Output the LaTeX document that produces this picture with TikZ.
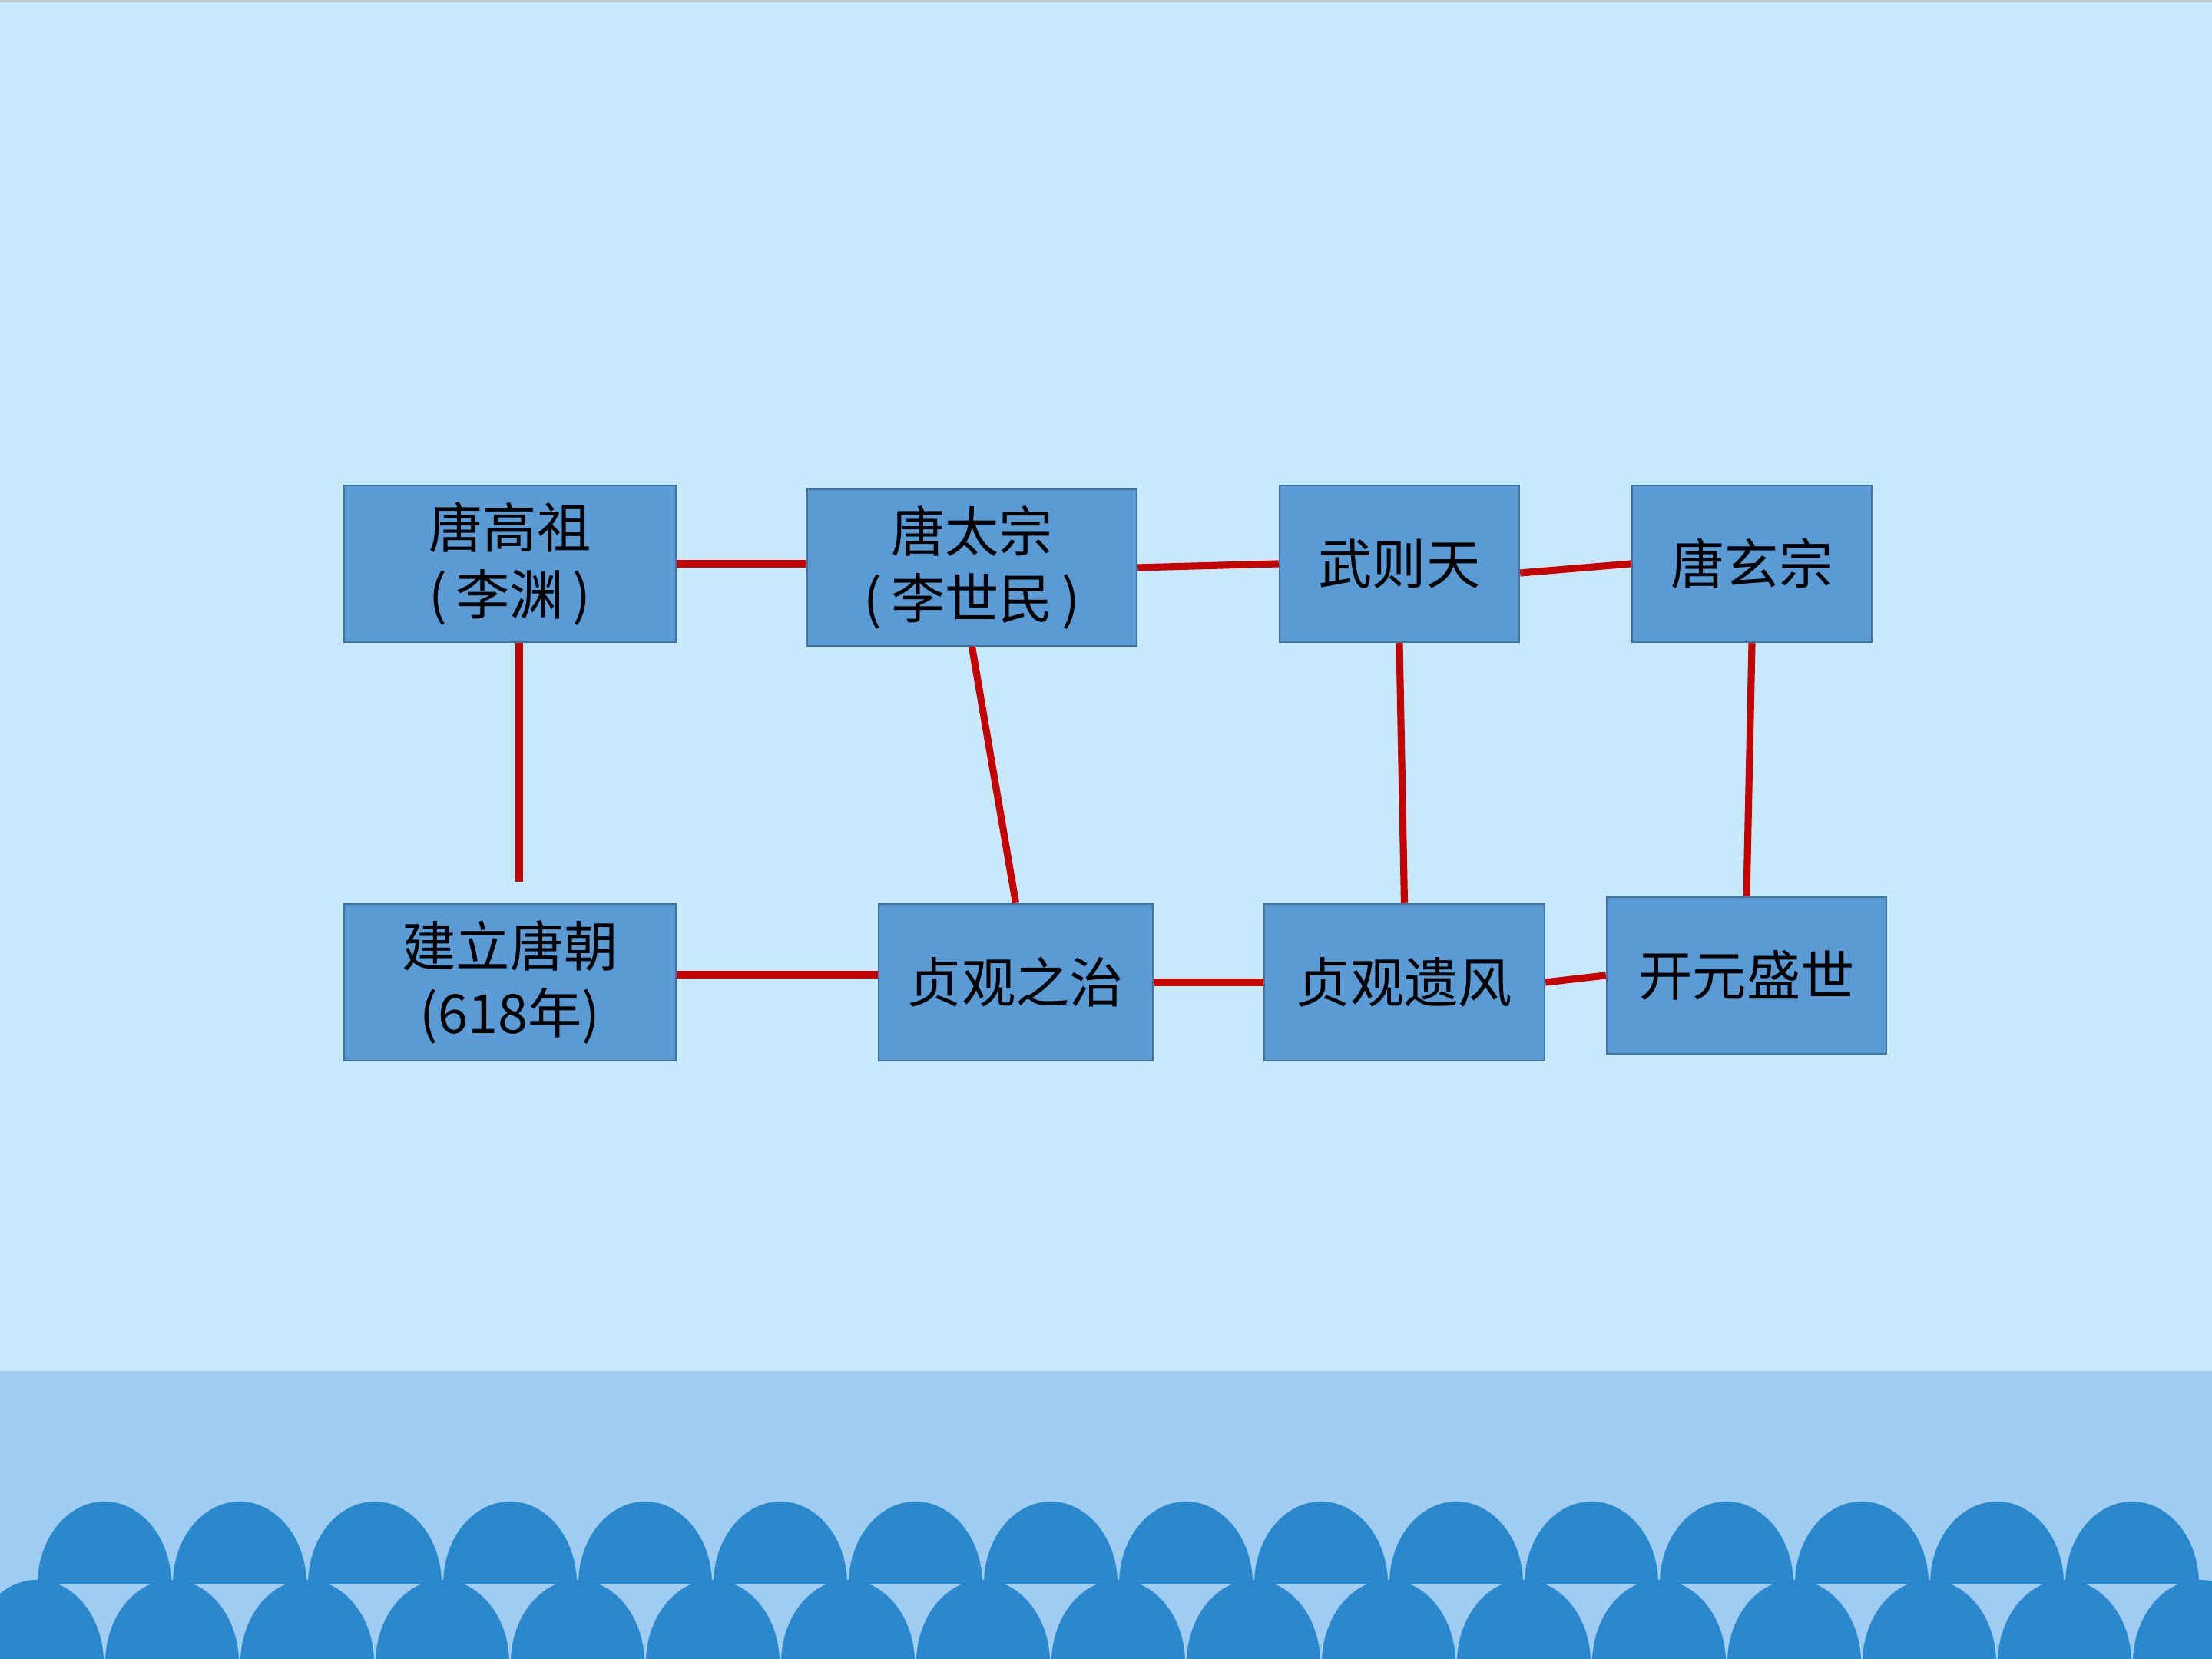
\documentclass[tikz,border=0pt]{standalone}
\usepackage{fontspec}
\setmainfont{Noto Sans CJK SC}
\usetikzlibrary{calc}
\definecolor{bgtop}{RGB}{198,233,251}
\definecolor{band}{RGB}{159,204,240}
\definecolor{wave}{RGB}{42,136,204}
\definecolor{boxfill}{RGB}{91,155,213}
\definecolor{boxline}{RGB}{65,113,156}
\definecolor{linkred}{RGB}{196,0,0}
\definecolor{topgray}{RGB}{200,200,200}
\tikzset{
  evbox/.style={draw=boxline, fill=boxfill, line width=0.7pt, minimum height=2.04cm,
    inner sep=0pt, align=center, font=\fontsize{20}{25}\selectfont, text=black},
  link/.style={draw=linkred, line width=2.6pt},
}
\begin{document}
\begin{tikzpicture}
\useasboundingbox (0,0) rectangle (28.8,21.6);
\begin{scope}
\clip (0,0) rectangle (28.8,21.6);
\fill[bgtop] (0,0) rectangle (28.8,21.6);
\fill[topgray] (0,21.57) rectangle (28.8,21.6);
\fill[band] (0,0) rectangle (28.8,3.75);
% upper row of arches
\foreach \k in {0,...,15}{
  \fill[wave] ({1.36+1.76*\k-0.87},0.98) arc[start angle=180, end angle=0, x radius=0.87, y radius=1.07] -- cycle;
}
% lower row of arches
\foreach \k in {0,...,16}{
  \fill[wave] ({0.48+1.76*\k-0.87},-0.05) arc[start angle=180, end angle=0, x radius=0.87, y radius=1.08] -- cycle;
}
\end{scope}

\node[evbox, minimum width=4.32cm] (A) at (6.64,14.26) {唐高祖\\(\,李渊\,)};
\node[evbox, minimum width=4.29cm] (B) at (12.655,14.21) {唐太宗\\(\,李世民\,)};
\node[evbox, minimum width=3.12cm] (C) at (18.22,14.26) {武则天};
\node[evbox, minimum width=3.12cm] (D) at (22.81,14.26) {唐玄宗};
\node[evbox, minimum width=4.32cm] (E) at (6.64,8.81) {建立唐朝\\(618年)};
\node[evbox, minimum width=3.57cm] (F) at (13.225,8.81) {贞观之治};
\node[evbox, minimum width=3.65cm] (G) at (18.285,8.81) {贞观遗风};
\node[evbox, minimum width=3.64cm] (H) at (22.74,8.90) {开元盛世};

\coordinate (Aend) at (6.76,10.12);

\draw[link] (A.east) -- (A.east -| B.west);
\draw[link] (B.east) -- (C.west);
\draw[link] ($(C.east)+(0,-0.12)$) -- (D.west);
\draw[link] ($(A.south)+(0.12,0)$) -- (Aend);
\draw[link] (B.south) -- (F.north);
\draw[link] (C.south) -- (G.north);
\draw[link] (D.south) -- (H.north);
\draw[link] ($(E.east)+(0,0.1)$) -- ($(F.west)+(0,0.1)$);
\draw[link] (F.east) -- (G.west);
\draw[link] (G.east) -- (H.west);
\end{tikzpicture}
\end{document}
